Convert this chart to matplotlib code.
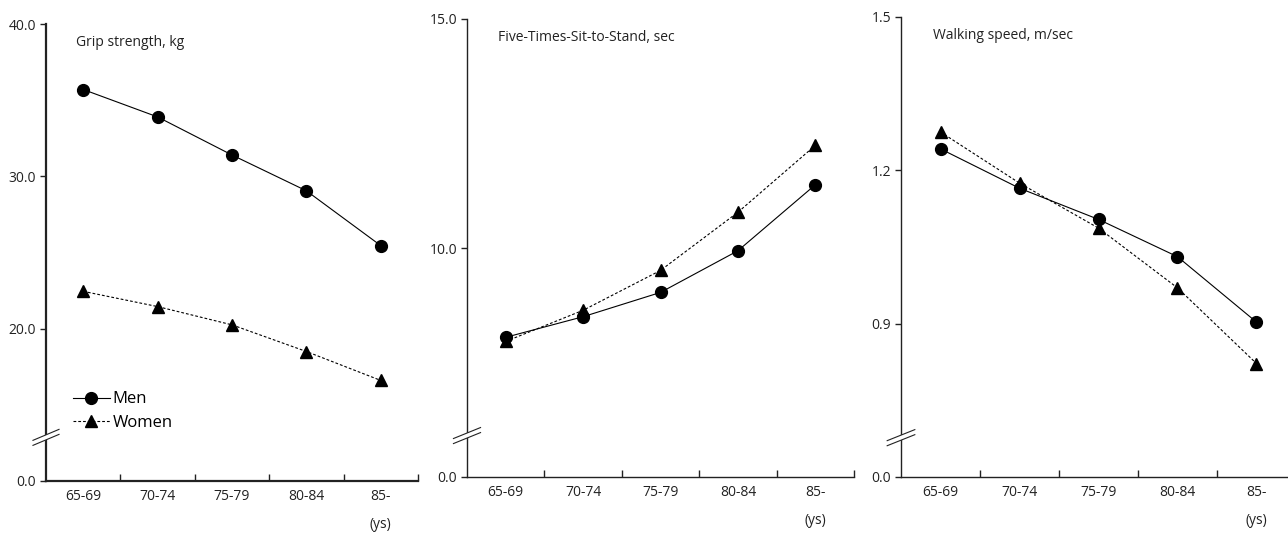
import matplotlib
matplotlib.use("Agg")
import matplotlib.pyplot as plt
from matplotlib.lines import Line2D
from matplotlib.patches import Polygon

plt.rcParams['font.family'] = ['Open Sans', 'DejaVu Sans']

# categories
ages = ["65-69", "70-74", "75-79", "80-84", "85-"]

# grip strength, kg
grip_men = [35.7, 33.9, 31.4, 29.05, 25.45]
grip_women = [22.45, 21.45, 20.25, 18.5, 16.6]

# five-times-sit-to-stand, sec
sts_men = [8.05, 8.5, 9.03, 9.94, 11.38]
sts_women = [7.96, 8.64, 9.51, 10.78, 12.24]

# walking speed, m/sec
walk_men = [1.242, 1.165, 1.104, 1.031, 0.903]
walk_women = [1.275, 1.175, 1.087, 0.970, 0.822]

titles = ["Grip strength, kg", "Five-Times-Sit-to-Stand, sec", "Walking speed, m/sec"]
men_all = [grip_men, sts_men, walk_men]
women_all = [grip_women, sts_women, walk_women]
# visible range (bottom is shown as 0.0 after an axis break)
ranges = [(10, 40), (5, 15), (0.6, 1.5)]
yticks = [[10, 20, 30, 40], [5, 10, 15], [0.6, 0.9, 1.2, 1.5]]
ylabels = [["0.0", "20.0", "30.0", "40.0"], ["0.0", "10.0", "15.0"], ["0.0", "0.9", "1.2", "1.5"]]
breaks_at = [0.09, 0.085, 0.08]

boxes = [
    [46 / 1288, 1 - 481 / 536, (418 - 46) / 1288, (481 - 24) / 536],
    [467 / 1288, 1 - 477 / 536, (854 - 467) / 1288, (477 - 19) / 536],
    [901 / 1288, 1 - 477 / 536, (1296 - 901) / 1288, (477 - 17) / 536],
]
spine_w = [1.6, 1.0, 1.0]

fig = plt.figure(figsize=(12.88, 5.36), dpi=100)

for i in range(3):
    ax = fig.add_axes(boxes[i])
    x = [k + 0.5 for k in range(len(ages))]
    ax.plot(x, men_all[i], color="black", lw=0.8, marker="o", ms=8.5,
            label="Men", clip_on=False)
    ax.plot(x, women_all[i], color="black", lw=0.8, ls=(0, (2.5, 1.8)),
            marker="^", ms=8.5, label="Women", clip_on=False)

    ax.set_xlim(0, 5)
    ax.set_ylim(*ranges[i])
    for s in ["top", "right"]:
        ax.spines[s].set_visible(False)
    for s in ["left", "bottom"]:
        ax.spines[s].set_linewidth(spine_w[i])
        ax.spines[s].set_color("#222222")

    ax.set_xticks([1, 2, 3, 4, 5])
    ax.set_xticklabels([])
    ax.tick_params(axis="x", which="major", direction="in", length=5,
                   width=1.0, color="#222222")
    ax.set_xticks(x, minor=True)
    ax.set_xticklabels(ages, minor=True, fontsize=10, color="#222222")
    ax.tick_params(axis="x", which="minor", length=0, pad=6)

    ax.set_yticks(yticks[i])
    ax.set_yticklabels(ylabels[i], fontsize=10, color="#222222")
    ax.tick_params(axis="y", direction="out", length=4, width=1.0,
                   color="#222222", pad=3)

    ax.text(0.08, 0.96, titles[i], transform=ax.transAxes, fontsize=10,
            va="center", ha="left", color="#222222")
    h_px = boxes[i][3] * 536
    ax.text(0.9, -44 / h_px, "(ys)", transform=ax.transAxes, fontsize=10,
            ha="center", va="center", color="#222222")

    # axis break marks
    yb = breaks_at[i]
    dx, dy, gap = 0.035, 0.012, 0.011
    poly = Polygon([(-dx, yb - dy), (dx, yb + dy), (dx, yb + dy + gap),
                    (-dx, yb - dy + gap)], closed=True, transform=ax.transAxes,
                   facecolor="white", edgecolor="none", clip_on=False, zorder=5)
    ax.add_patch(poly)
    for off in (0, gap):
        ax.add_line(Line2D([-dx, dx], [yb - dy + off, yb + dy + off],
                           transform=ax.transAxes, color="#222222", lw=0.8,
                           clip_on=False, zorder=6))

    if i == 0:
        ax.legend(loc="lower left", bbox_to_anchor=(0.055, 0.095), frameon=False,
                  fontsize=12, handlelength=2.2, handletextpad=0.15,
                  labelspacing=0.45, borderaxespad=0)

fig.savefig("out.png", dpi=100)
